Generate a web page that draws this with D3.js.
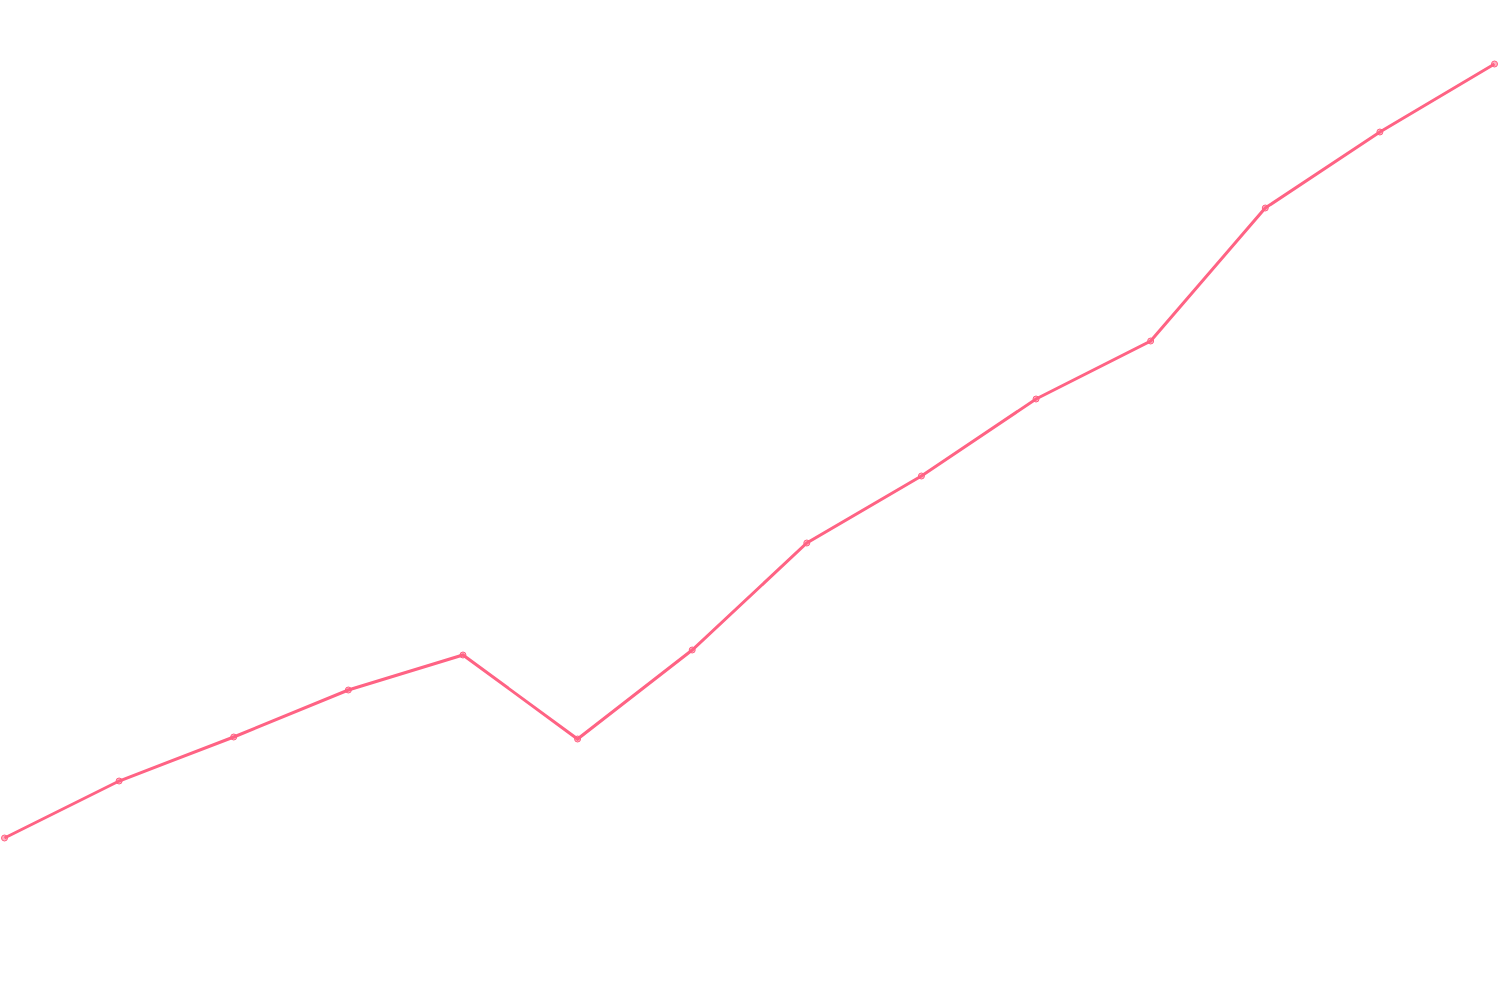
<!DOCTYPE html>
<html>
<head>
<meta charset="utf-8">
<script src="https://cdn.jsdelivr.net/npm/d3@7"></script>
<style>
  html, body { margin: 0; padding: 0; background: #fff; }
  svg { display: block; }
</style>
</head>
<body>
<div id="chart"></div>
<script>
// Categories along the x axis (not shown in the picture)
var labels = ["1", "2", "3", "4", "5", "6", "7", "8", "9", "10", "11", "12", "13", "14"];
// Series values
var values = [16.2, 21.9, 26.3, 31.0, 34.5, 26.1, 35.0, 45.7, 52.4, 60.1, 65.9, 79.2, 86.8, 93.6];

(function() {
    var width = 1500,
        height = 1000;

    var svg = d3.select("#chart").append("svg")
        .attr("width", width)
        .attr("height", height);

    // x: one point per category, first and last at the edges
    var x = d3.scalePoint()
        .domain(labels)
        .range([4.5, 1494.5]);

    // y: hidden axis, 0..100
    var y = d3.scaleLinear()
        .domain([0, 100])
        .range([height, 0]);

    var data = labels.map(function(l, i) { return { label: l, value: values[i] }; });

    var line = d3.line()
        .x(d => x(d.label))
        .y(d => y(d.value));

    // line
    svg.append("path")
        .datum(data)
        .attr("fill", "none")
        .attr("stroke", "rgb(255,99,132)")
        .attr("stroke-width", 3)
        .attr("stroke-linejoin", "miter")
        .attr("d", line);

    // points
    svg.selectAll(".dot")
        .data(data)
        .join("circle")
            .attr("class", "dot")
            .attr("r", 3)
            .attr("cx", d => x(d.label))
            .attr("cy", d => y(d.value))
            .attr("fill", "rgba(255,99,132,0.5)")
            .attr("stroke", "rgb(255,99,132)")
            .attr("stroke-width", 1);
})();
</script>
</body>
</html>
